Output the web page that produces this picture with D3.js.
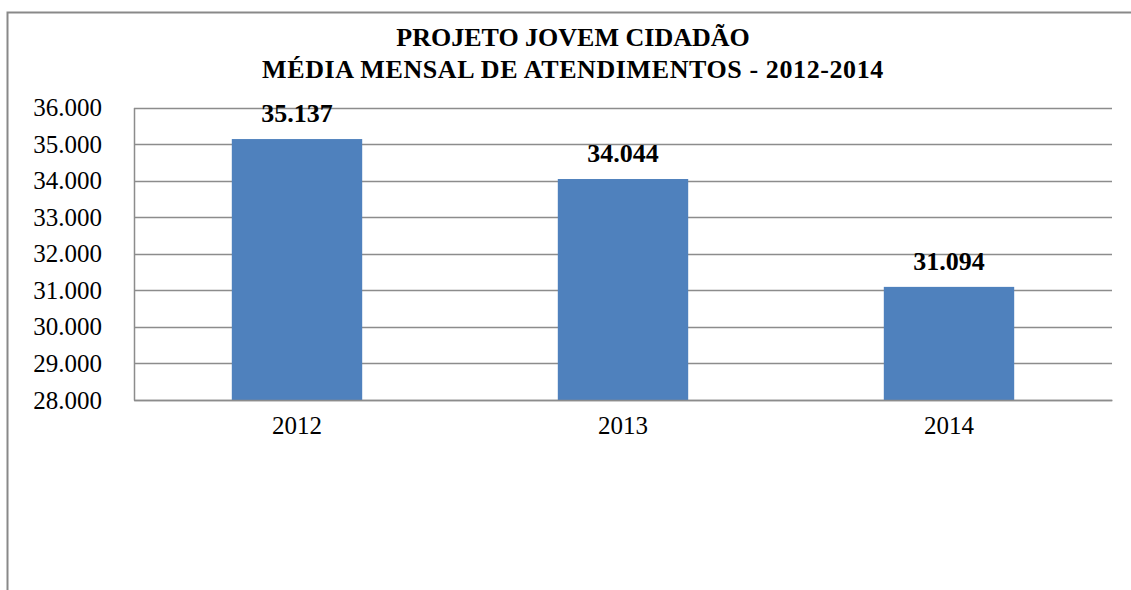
<!DOCTYPE html>
<html>
<head>
<meta charset="utf-8">
<script src="https://cdn.jsdelivr.net/npm/d3@7"></script>
<style>
  body { margin: 0; background: #fff; }
  svg { display: block; }
  svg text { font-family: "Liberation Serif", "Times New Roman", serif; }
</style>
</head>
<body>
<svg id="chart" width="1131" height="590"></svg>
<script>
var years = ["2012", "2013", "2014"];
var atendimentos = [35137, 34044, 31094];
var yTicks = [28000, 29000, 30000, 31000, 32000, 33000, 34000, 35000, 36000];
var titleLines = ["PROJETO JOVEM CIDADÃO", "MÉDIA MENSAL DE ATENDIMENTOS - 2012-2014"];

var svg = d3.select("#chart");
var width = 1131, height = 590;
var margin = {left: 134, right: 1112, top: 107.5, bottom: 400};
var serif = "Liberation Serif, Times New Roman, serif";

var fmt = d3.formatLocale({decimal: ",", thousands: ".", grouping: [3], currency: ["R$", ""]}).format(",d");

// chart frame (left and top edges only, like the original crop)
svg.append("path")
    .attr("d", "M7.5,590 L7.5,12.5 L1131,12.5")
    .attr("fill", "none")
    .attr("stroke", "#898989")
    .attr("stroke-width", 2);

var x = d3.scaleBand()
    .domain(years)
    .range([margin.left, margin.right])
    .paddingInner(0.6)
    .paddingOuter(0.3);

var y = d3.scaleLinear()
    .domain([28000, 36000])
    .range([margin.bottom, margin.top]);

// gridlines
svg.append("g")
    .selectAll("line")
    .data(yTicks)
    .enter()
    .append("line")
    .attr("x1", margin.left)
    .attr("x2", margin.right)
    .attr("y1", function (d) { return Math.round(y(d)) + 0.5; })
    .attr("y2", function (d) { return Math.round(y(d)) + 0.5; })
    .attr("stroke", "#8c8c8c")
    .attr("stroke-width", 1.5);

// y axis
var yAxis = svg.append("g")
    .attr("transform", "translate(" + margin.left + ",0)")
    .call(d3.axisLeft(y).tickValues(yTicks).tickFormat(fmt).tickSize(0).tickPadding(32));
yAxis.select(".domain").attr("stroke", "#8c8c8c").attr("stroke-width", 1.5);
yAxis.selectAll("text")
    .attr("font-size", 25)
    .attr("font-family", serif)
    .attr("fill", "#000");

// bars
svg.append("g")
    .selectAll("rect")
    .data(atendimentos)
    .enter()
    .append("rect")
    .attr("x", function (d, i) { return x(years[i]); })
    .attr("y", function (d) { return y(d); })
    .attr("width", x.bandwidth())
    .attr("height", function (d) { return y(28000) - y(d); })
    .attr("fill", "#4f81bd");

// x axis
var xAxis = svg.append("g")
    .attr("transform", "translate(0," + margin.bottom + ")")
    .call(d3.axisBottom(x).tickSize(0).tickPadding(16));
xAxis.select(".domain").attr("stroke", "#8c8c8c").attr("stroke-width", 1.5);
xAxis.selectAll("text")
    .attr("font-size", 25)
    .attr("font-family", serif)
    .attr("fill", "#000");

// value labels
svg.append("g")
    .selectAll("text")
    .data(atendimentos)
    .enter()
    .append("text")
    .attr("x", function (d, i) { return x(years[i]) + x.bandwidth() / 2; })
    .attr("y", function (d) { return y(d) - 17; })
    .attr("text-anchor", "middle")
    .attr("font-family", serif)
    .attr("font-size", 26)
    .attr("font-weight", "bold")
    .text(function (d) { return fmt(d); });

// title
svg.append("g")
    .selectAll("text")
    .data(titleLines)
    .enter()
    .append("text")
    .attr("x", 573)
    .attr("y", function (d, i) { return 46 + i * 32; })
    .attr("text-anchor", "middle")
    .attr("font-family", serif)
    .attr("font-size", 26)
    .attr("letter-spacing", function (d, i) { return i === 1 ? 0.6 : 0; })
    .attr("font-weight", "bold")
    .text(function (d) { return d; });
</script>
</body>
</html>
